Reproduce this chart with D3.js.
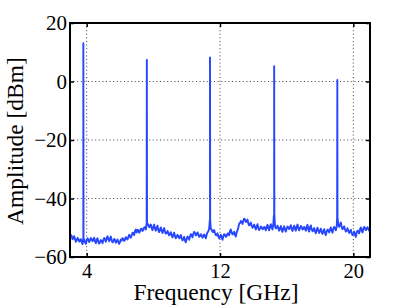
<!DOCTYPE html>
<html>
<head>
<meta charset="utf-8">
<script src="https://cdn.jsdelivr.net/npm/d3@7"></script>
<style>
  body { margin: 0; background: #fff; }
  svg { display: block; }
</style>
</head>
<body>
<div id="chart"></div>
<script>
// noise floor, sampled every 0.05 GHz from 3.0 to 21.0
const noiseStart = 3.0;
const noiseStep = 0.05;
const noiseFloor = [
  -53.2,-52.4,-52.8,-53.9,-53.6,-52.9,-53.9,-54.8,-54.3,-53.5,-53.8,-54.7,-54.5,-53.9,-54.9,-55.6,-54.6,-53.9,-55.0,-55.5,
  -54.4,-53.6,-54.0,-54.9,-54.3,-53.5,-53.9,-54.6,-54.2,-53.4,-54.6,-55.3,-54.1,-53.6,-54.8,-55.4,-54.9,-54.2,-54.5,-55.3,
  -54.2,-53.5,-54.0,-54.8,-53.6,-52.9,-53.9,-54.6,-53.7,-53.0,-54.3,-55.0,-54.6,-53.8,-54.2,-55.1,-54.7,-54.0,-54.9,-55.5,
  -54.8,-54.0,-54.4,-53.6,-53.8,-54.5,-54.1,-53.2,-53.5,-54.0,-53.3,-52.4,-52.9,-53.4,-52.6,-51.7,-51.8,-52.5,-51.2,-50.6,
  -51.6,-50.7,-50.9,-51.7,-51.2,-50.4,-50.3,-51.1,-50.7,-49.9,-49.8,-50.6,-49.3,-48.6,-48.9,-49.8,-49.6,-48.9,-50.1,-50.8,
  -49.7,-48.9,-50.4,-51.0,-50.0,-49.3,-50.8,-51.5,-50.6,-49.9,-51.1,-51.8,-50.7,-50.1,-51.4,-52.0,-51.9,-51.1,-51.8,-52.6,
  -52.2,-51.5,-52.6,-53.3,-52.4,-51.7,-52.9,-53.6,-53.1,-52.4,-52.8,-53.6,-53.3,-52.5,-53.6,-54.3,-53.9,-53.1,-54.4,-55.0,
  -53.8,-53.0,-53.4,-54.1,-52.9,-52.2,-52.5,-53.3,-52.1,-51.4,-51.8,-52.6,-52.4,-51.6,-52.3,-53.1,-52.9,-52.2,-52.6,-53.4,
  -53.0,-52.3,-52.9,-53.6,-52.4,-51.6,-51.2,-50.3,-49.5,-50.4,-50.6,-51.4,-51.5,-50.8,-51.8,-52.5,-52.6,-51.9,-52.9,-53.6,
  -53.1,-52.4,-53.4,-54.1,-52.9,-52.2,-52.4,-53.1,-52.8,-52.0,-51.9,-52.6,-51.2,-50.6,-51.6,-52.3,-52.0,-51.4,-52.4,-53.0,
  -51.6,-50.8,-49.9,-48.6,-48.4,-47.7,-48.0,-48.7,-47.6,-46.9,-47.2,-48.0,-47.9,-47.2,-48.5,-49.2,-48.9,-48.2,-49.3,-50.0,
  -49.6,-48.9,-49.9,-50.6,-49.5,-48.8,-50.1,-50.8,-50.3,-49.6,-49.8,-50.5,-50.4,-49.7,-50.1,-50.9,-49.7,-49.0,-50.2,-50.9,
  -49.5,-48.8,-49.9,-50.6,-48.6,-47.8,-49.4,-50.2,-50.0,-49.3,-50.3,-51.0,-50.1,-49.4,-50.7,-51.4,-50.2,-49.5,-50.6,-51.3,
  -50.3,-49.6,-49.8,-50.5,-49.9,-49.1,-50.4,-51.1,-50.0,-49.3,-50.3,-51.0,-49.6,-48.9,-50.2,-50.9,-50.1,-49.4,-49.8,-50.6,
  -50.4,-49.7,-50.3,-51.0,-49.7,-49.0,-50.6,-51.3,-49.9,-49.2,-50.5,-51.2,-50.9,-50.1,-51.2,-51.9,-50.7,-50.0,-51.1,-51.8,
  -51.0,-50.3,-51.4,-52.1,-51.2,-50.5,-51.8,-52.5,-51.3,-50.6,-50.9,-51.6,-50.6,-49.9,-51.0,-51.7,-50.4,-49.7,-50.1,-50.9,
  -49.6,-48.8,-48.9,-49.7,-48.9,-48.2,-49.8,-50.5,-50.2,-49.5,-50.6,-51.3,-50.9,-50.2,-51.1,-51.8,-51.4,-50.7,-51.8,-52.5,
  -52.0,-51.3,-52.4,-53.1,-51.7,-51.0,-51.2,-51.9,-50.6,-49.9,-50.9,-51.6,-50.4,-49.7,-50.1,-50.8,-50.5,-49.8,-50.3,-51.0,
  -50.6
];

// harmonic tones
const spikeFreq = [3.80, 7.61, 11.40, 15.25, 19.04];
const spikePeak = [13.1, 7.4, 8.2, 5.2, 0.5];
const spikeBase = [-54.0, -48.5, -47.5, -45.5, -46.5];

const xTicks = [4, 12, 20];
const yTicks = [20, 0, -20, -40, -60];

const W = 409, H = 308;
const margin = { top: 23, right: 39, bottom: 51, left: 70 };
const width = W - margin.left - margin.right;
const height = H - margin.top - margin.bottom;
const serif = 'Liberation Serif';

// build the trace: noise floor with the tones spliced in
let trace = noiseFloor.map((v, i) => ({ f: noiseStart + i * noiseStep, a: v }));
spikeFreq.forEach((f, i) => {
  trace.push({ f: f - 0.012, a: spikeBase[i] });
  trace.push({ f: f, a: spikePeak[i] });
  trace.push({ f: f + 0.012, a: spikeBase[i] });
});
trace.sort((p, q) => p.f - q.f);

const svg = d3.select('#chart').append('svg')
  .attr('width', W)
  .attr('height', H);

const g = svg.append('g')
  .attr('transform', 'translate(' + margin.left + ',' + margin.top + ')');

const x = d3.scaleLinear().domain([3, 21]).range([0, width]);
const y = d3.scaleLinear().domain([-60, 20]).range([height, 0]);

// grid
g.append('g').selectAll('line')
  .data(xTicks)
  .enter().append('line')
    .attr('x1', d => x(d)).attr('x2', d => x(d))
    .attr('y1', 0).attr('y2', height)
    .attr('stroke', '#444')
    .attr('stroke-width', 1)
    .attr('stroke-dasharray', '1,2.6');
g.append('g').selectAll('line')
  .data(yTicks.filter(d => d > -60 && d < 20))
  .enter().append('line')
    .attr('x1', 0).attr('x2', width)
    .attr('y1', d => y(d)).attr('y2', d => y(d))
    .attr('stroke', '#444')
    .attr('stroke-width', 1)
    .attr('stroke-dasharray', '1,2.6');

// trace
const line = d3.line()
  .x(d => x(d.f))
  .y(d => y(d.a));

g.append('path')
  .datum(trace)
  .attr('fill', 'none')
  .attr('stroke', '#2646ff')
  .attr('stroke-width', 1.9)
  .attr('stroke-linejoin', 'round')
  .attr('d', line);

// axes, matlab style: ticks inside on all sides
const fmt = d => d < 0 ? '\u2212' + Math.abs(d) : String(d);

const xAx = g.append('g')
  .attr('transform', 'translate(0,' + height + ')')
  .call(d3.axisBottom(x).tickValues(xTicks).tickSizeInner(-4).tickSizeOuter(0).tickFormat(fmt));
xAx.select('.domain').remove();
xAx.selectAll('.tick line').attr('stroke', '#000').attr('stroke-width', 1.5);
xAx.selectAll('text')
  .attr('y', 6).attr('dy', '0.71em')
  .style('font-family', serif).style('font-size', '20.5px').style('fill', '#000');

const xTop = g.append('g')
  .call(d3.axisTop(x).tickValues(xTicks).tickSizeInner(-4).tickSizeOuter(0).tickFormat(''));
xTop.select('.domain').remove();
xTop.selectAll('.tick line').attr('stroke', '#000').attr('stroke-width', 1.5);

const yAx = g.append('g')
  .call(d3.axisLeft(y).tickValues(yTicks).tickSizeInner(-4).tickSizeOuter(0).tickFormat(fmt));
yAx.select('.domain').remove();
yAx.selectAll('.tick line').attr('stroke', '#000').attr('stroke-width', 1.5);
yAx.selectAll('text')
  .attr('x', -3)
  .style('font-family', serif).style('font-size', '21px').style('fill', '#000');

const yRight = g.append('g')
  .attr('transform', 'translate(' + width + ',0)')
  .call(d3.axisRight(y).tickValues(yTicks).tickSizeInner(-4).tickSizeOuter(0).tickFormat(''));
yRight.select('.domain').remove();
yRight.selectAll('.tick line').attr('stroke', '#000').attr('stroke-width', 1.5);

// box
g.append('rect')
  .attr('x', 0).attr('y', 0)
  .attr('width', width).attr('height', height)
  .attr('fill', 'none')
  .attr('stroke', '#000')
  .attr('stroke-width', 2);

// labels
svg.append('text')
  .attr('x', 216)
  .attr('y', 300)
  .attr('text-anchor', 'middle')
  .style('font-family', serif)
  .style('font-size', '23.5px')
  .text('Frequency [GHz]');

svg.append('text')
  .attr('transform', 'translate(22.5,' + (margin.top + height / 2 + 1) + ') rotate(-90)')
  .attr('text-anchor', 'middle')
  .style('font-family', serif)
  .style('font-size', '23.5px')
  .text('Amplitude [dBm]');
</script>
</body>
</html>
